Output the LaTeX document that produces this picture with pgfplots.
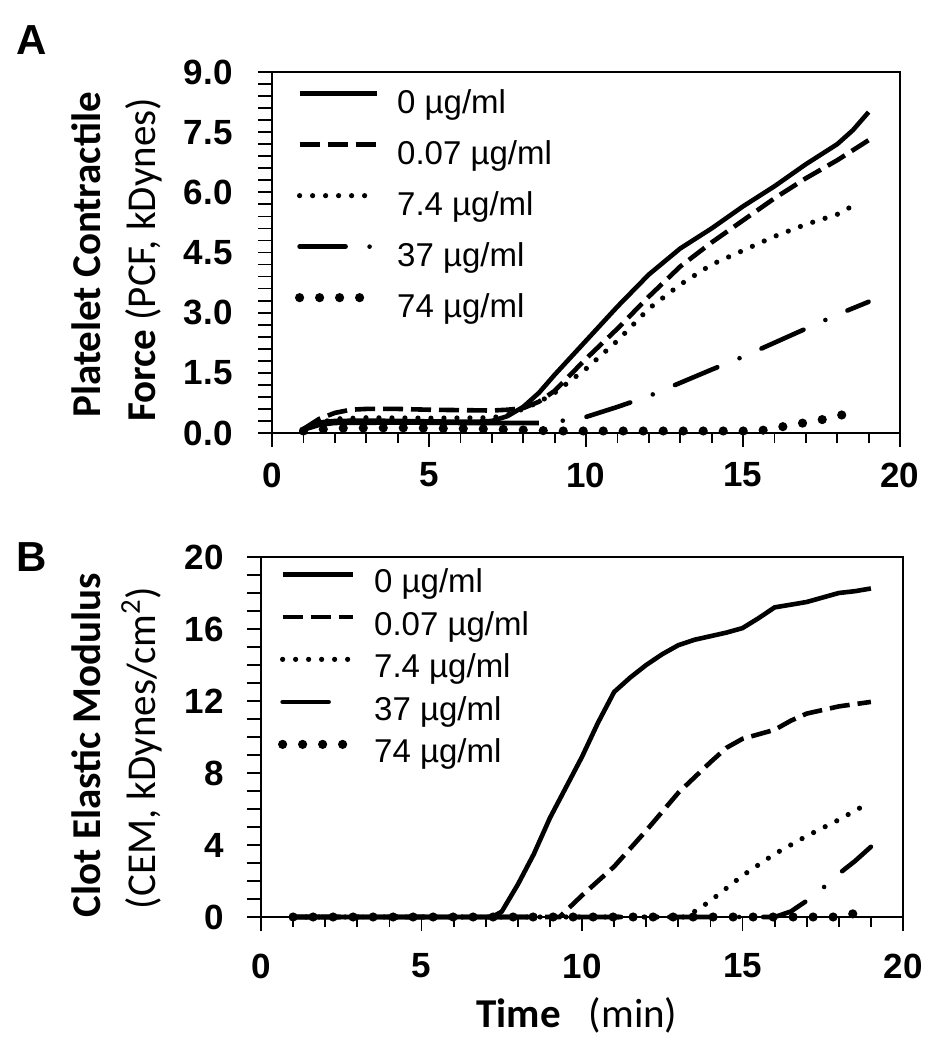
\documentclass[border=0pt]{standalone}
\usepackage{fontspec}
\setmainfont{Carlito}
\newfontfamily\arial{Liberation Sans}
\usepackage{pgfplots}
\pgfplotsset{compat=1.18}

\pgfplotstableread{
x y
1 0.08
1.3 0.2
1.6 0.27
2 0.3
3 0.31
4 0.3
5 0.29
6 0.28
6.5 0.28
7 0.3
7.5 0.42
8 0.65
8.5 1.0
9 1.45
10 2.3
11 3.15
12 3.95
13 4.6
14 5.1
15 5.65
16 6.15
17 6.7
18 7.2
18.5 7.55
19 8.0
}\Aa
\pgfplotstableread{
x y
1 0.1
1.5 0.35
2 0.5
2.5 0.58
3 0.6
4 0.6
5 0.58
6 0.57
7 0.56
7.5 0.58
8 0.62
8.5 0.78
9 1.05
10 1.85
11 2.6
12 3.4
13 4.15
14 4.75
15 5.3
16 5.85
17 6.35
18 6.8
19 7.3
}\Ab
\pgfplotstableread{
x y
1 0.05
1.5 0.25
2 0.35
3 0.38
5 0.37
7 0.38
7.5 0.45
8 0.6
8.5 0.77
9 1.0
10 1.6
11 2.3
12 3.1
13 3.7
14 4.2
15 4.55
16 4.9
17 5.2
18 5.45
18.7 5.75
}\Ac
\pgfplotstableread{
x y
1 0.08
1.5 0.2
2 0.25
4 0.26
6 0.25
8.5 0.25
}\Adflat
\pgfplotstableread{
x y
8.5 0.25
9.2 0.3
10 0.4
11 0.65
12 0.92
13 1.25
14 1.58
15 1.9
16 2.25
17 2.6
18 2.95
19 3.27
}\Ad
\pgfplotstableread{
x y
1 0.05
2 0.12
4 0.13
7 0.1
9 0.05
15.5 0.05
16 0.12
16.5 0.19
17 0.26
17.5 0.33
18 0.42
18.5 0.52
}\Ae

\pgfplotstableread{
x y
1 0
7.2 0
7.5 0.3
8 1.8
8.5 3.5
9 5.5
9.5 7.2
10 8.9
10.5 10.8
11 12.5
11.5 13.3
12 14.0
12.5 14.6
13 15.1
13.5 15.4
14 15.6
14.5 15.8
15 16.05
15.5 16.6
16 17.2
16.5 17.35
17 17.5
17.5 17.75
18 18.0
18.5 18.1
19 18.25
}\Ba
\pgfplotstableread{
x y
1 0
9.3 0
10 1.2
11 2.8
12 4.8
13 6.9
14 8.6
14.5 9.4
15 9.9
16 10.4
16.5 10.9
17 11.3
18 11.7
19 11.95
}\Bb
\pgfplotstableread{
x y
1 0
13.2 0
13.6 0.4
14 0.9
15 2.3
16 3.5
17 4.5
18 5.4
18.7 6.1
}\Bc
\pgfplotstableread{
x y
1 0
16 0
16.5 0.3
17 0.9
17.5 1.6
18 2.4
18.5 3.1
19 3.9
}\Bd
\pgfplotstableread{
x y
1 0
18 0
18.5 0.2
18.85 0.5
}\Be

\tikzset{
  s0/.style={black, line width=2.3pt, solid},
  s1/.style={black, line width=2.3pt, dash pattern=on 10pt off 4pt},
  s2/.style={black, line width=2.6pt, line cap=round, dash pattern=on 0pt off 6.5pt},
  s3/.style={black, line width=2.3pt, line cap=round, dash pattern=on 23pt off 12pt on 0pt off 12pt},
  s4/.style={black, line width=4.6pt, line cap=round, dash pattern=on 0pt off 10pt},
}

\pgfplotsset{
  base/.style={
    scale only axis,
    xmin=0, xmax=20, ymin=0,
    clip=false,
    tick pos=left,
    tick align=outside,
    xtick={0,5,10,15,20},
    minor x tick num=4,
    major tick length=7pt,
    minor tick length=5pt,
    every tick/.append style={black, line width=0.9pt},
    axis line style={line width=0.9pt},
    ticklabel style={font=\arial\bfseries\fontsize{17.5}{20}\selectfont, inner sep=0pt},
    /pgf/number format/assume math mode=true,
    legend cell align=left,
  },
}

\begin{document}
\begin{tikzpicture}
\useasboundingbox (0,0) rectangle (466pt,525pt);

% ---------- Panel A ----------
\begin{axis}[base,
  at={(136pt,308.5pt)}, anchor=south west,
  width=314pt, height=180.5pt,
  ymax=9,
  ytick={0,0.3,0.6,0.9,1.2,1.5,1.8,2.1,2.4,2.7,3.0,3.3,3.6,3.9,4.2,4.5,4.8,5.1,5.4,5.7,6.0,6.3,6.6,6.9,7.2,7.5,7.8,8.1,8.4,8.7,9.0},
  yticklabels={0.0,,,,,1.5,,,,,3.0,,,,,4.5,,,,,6.0,,,,,7.5,,,,,9.0},
  xticklabel style={anchor=north, yshift=-7.7pt},
  yticklabel style={anchor=east, xshift=-12.5pt},
  legend image code/.code={\draw[#1] (0pt,5.9pt) -- (38.5pt,5.9pt);},
  legend style={draw=none, fill=none, inner sep=0pt, outer sep=0pt,
    at={(0.0366,0.978)}, anchor=north west, row sep=0pt, column sep=8pt,
    nodes={inner sep=0pt, text height=17pt, text depth=8.5pt,
      font=\arial\fontsize{16.5}{19}\selectfont}},
]
\addlegendimage{s0}\addlegendentry{0 µg/ml}
\addlegendimage{s1}\addlegendentry{0.07 µg/ml}
\addlegendimage{s2}\addlegendentry{7.4 µg/ml}
\addlegendimage{s3}\addlegendentry{37 µg/ml}
\addlegendimage{s4}\addlegendentry{74 µg/ml}
\addplot[s4, forget plot] table {\Ae};
\addplot[s0, forget plot] table {\Adflat};
\addplot[s3, dash phase=23pt, forget plot] table {\Ad};
\addplot[s2, forget plot] table {\Ac};
\addplot[s1, forget plot] table {\Ab};
\addplot[s0, forget plot] table {\Aa};
\end{axis}

% ---------- Panel B ----------
\begin{axis}[base,
  at={(130.5pt,66.5pt)}, anchor=south west,
  width=321pt, height=180pt,
  ymax=20,
  ytick={0,1,...,20},
  yticklabels={0,,,,4,,,,8,,,,12,,,,16,,,,20},
  xticklabel style={anchor=north, yshift=-11.2pt},
  yticklabel style={anchor=east, xshift=-11.5pt},
  legend image code/.code={\draw[#1] (0pt,5.9pt) -- (35pt,5.9pt);},
  legend style={draw=none, fill=none, inner sep=0pt, outer sep=0pt,
    at={(0.0265,0.978)}, anchor=north west, row sep=0pt, column sep=8.5pt,
    nodes={inner sep=0pt, text height=14pt, text depth=7.25pt,
      font=\arial\fontsize{16.5}{19}\selectfont}},
]
\addlegendimage{s0}\addlegendentry{0 µg/ml}
\addlegendimage{s1}\addlegendentry{0.07 µg/ml}
\addlegendimage{s2}\addlegendentry{7.4 µg/ml}
\addlegendimage{s3}\addlegendentry{37 µg/ml}
\addlegendimage{s4}\addlegendentry{74 µg/ml}
\addplot[s4, forget plot] table {\Be};
\addplot[s3, forget plot] table {\Bd};
\addplot[s2, forget plot] table {\Bc};
\addplot[s1, forget plot] table {\Bb};
\addplot[s0, forget plot] table {\Ba};
\end{axis}

% ---------- labels ----------
\node[font=\arial\bfseries\fontsize{21}{24}\selectfont] at (16pt,505pt) {A};
\node[font=\arial\bfseries\fontsize{21}{24}\selectfont] at (16pt,246.5pt) {B};

\begin{scope}[every node/.style={font=\fontsize{20.5}{24}\selectfont, inner sep=0pt}]
\node[rotate=90, anchor=base] at (50pt,397.5pt) {\bfseries Platelet Contractile};
\node[rotate=90, anchor=base] at (77.5pt,395pt) {{\bfseries Force} (PCF, kDynes)};
\node[rotate=90, anchor=base] at (50pt,152.5pt) {\bfseries Clot Elastic Modulus};
\node[rotate=90, anchor=base] at (77.5pt,151pt) {(CEM, kDynes/cm\textsuperscript{2})};
\node[anchor=base] at (288.5pt,11.5pt) {{\bfseries Time}\hspace{14pt}(min)};
\end{scope}
\end{tikzpicture}
\end{document}
